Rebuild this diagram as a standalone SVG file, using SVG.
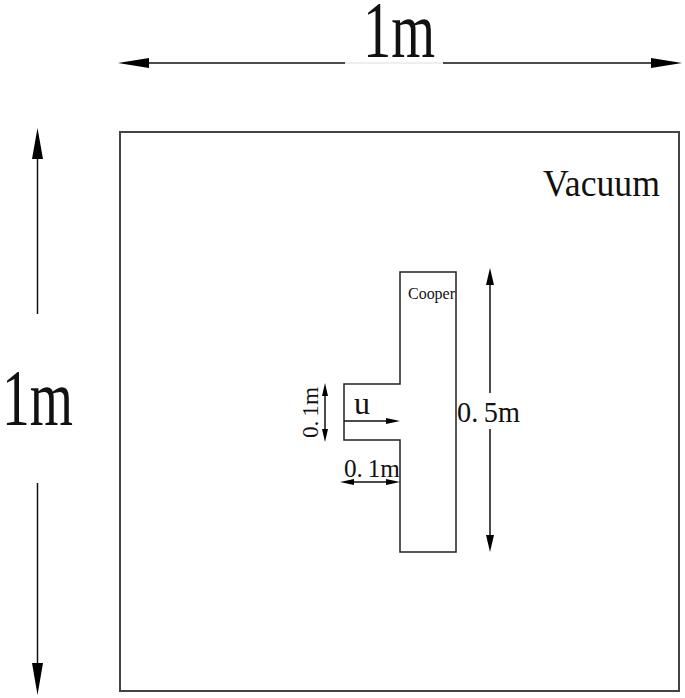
<svg xmlns="http://www.w3.org/2000/svg" width="685" height="698" viewBox="0 0 685 698">
<style>
.ln{stroke:#111;stroke-width:1.5;fill:none}
.hd{fill:#000;stroke:none}
.t{font-family:"Liberation Serif","Times New Roman",serif;fill:#111}
</style>
<rect width="685" height="698" fill="#fff"/>
<g id="domain">
<rect x="120" y="132" width="559" height="559" fill="none" stroke="#444" stroke-width="2"/>
<text class="t" x="543" y="196" font-size="38" textLength="117" lengthAdjust="spacingAndGlyphs">Vacuum</text>
</g>
<g id="copper">
<polygon points="400,272 456,272 456,552 400,552 400,440 344,440 344,384 400,384" fill="none" stroke="#222" stroke-width="1.5"/>
<text class="t" x="408" y="299" font-size="16" fill="#333" textLength="47" lengthAdjust="spacingAndGlyphs">Cooper</text>
<text class="t" x="354" y="414" font-size="32">u</text>
</g>
<g id="connectors">
<!-- top 1m -->
<line class="ln" x1="149" y1="63" x2="345" y2="63"/>
<line x1="345" y1="63" x2="443" y2="63" stroke="#ddd" stroke-width="1"/>
<line class="ln" x1="443" y1="63" x2="651" y2="63"/>
<polygon class="hd" points="118,63 149,58 149,68"/>
<polygon class="hd" points="682,63 651,58 651,68"/>
<!-- left 1m -->
<line class="ln" x1="37.5" y1="159" x2="37.5" y2="314"/>
<line class="ln" x1="37.5" y1="483" x2="37.5" y2="663"/>
<polygon class="hd" points="37.5,128 32,159 43,159"/>
<polygon class="hd" points="37.5,695 32,663 43,663"/>
<!-- 0.5m -->
<line class="ln" x1="490" y1="285" x2="490" y2="393"/>
<line class="ln" x1="490" y1="429" x2="490" y2="535"/>
<polygon class="hd" points="490,268 486,285 494,285"/>
<polygon class="hd" points="490,552 486,535 494,535"/>
<!-- vertical 0.1m -->
<line class="ln" x1="325" y1="395" x2="325" y2="430"/>
<polygon class="hd" points="325,383 322,396 328,396"/>
<polygon class="hd" points="325,442 322,429 328,429"/>
<!-- u arrow -->
<line class="ln" x1="344" y1="421" x2="387" y2="421"/>
<polygon class="hd" points="400,421 386,418 386,424"/>
<!-- horizontal 0.1m -->
<line class="ln" x1="353" y1="482" x2="387" y2="482"/>
<polygon class="hd" points="340,482 354,479 354,485"/>
<polygon class="hd" points="400,482 386,479 386,485"/>
</g>
<g id="labels">
<text class="t" x="363" y="57" font-size="80" textLength="72" lengthAdjust="spacingAndGlyphs">1m</text>
<text class="t" x="2" y="425" font-size="80" textLength="71" lengthAdjust="spacingAndGlyphs">1m</text>
<text class="t" x="457" y="422" font-size="30" textLength="63" lengthAdjust="spacingAndGlyphs">0.<tspan dx="6">5m</tspan></text>
<text class="t" x="344" y="477" font-size="26" textLength="56" lengthAdjust="spacingAndGlyphs">0.<tspan dx="5">1m</tspan></text>
<text class="t" transform="translate(318,438) rotate(-90)" x="0" y="0" font-size="24" textLength="51" lengthAdjust="spacingAndGlyphs">0.<tspan dx="4">1m</tspan></text>
</g>
</svg>
